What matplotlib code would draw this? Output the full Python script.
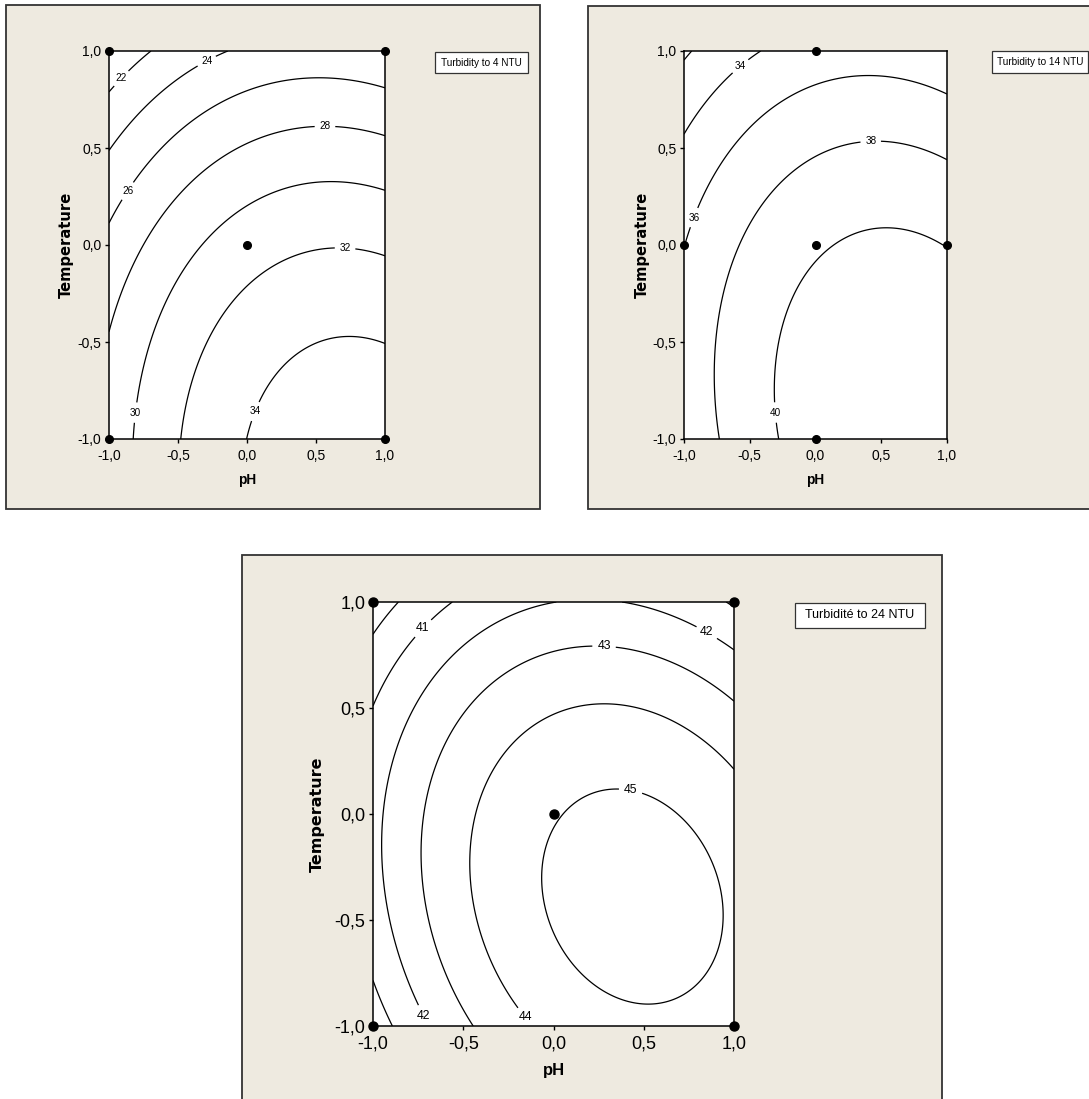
import numpy as np
import matplotlib.pyplot as plt
from matplotlib.patches import Rectangle

# fitted second-order models: b0, b_pH, b_T, b_pH2, b_T2, b_pH*T
coef_4 = [31.06, 2.60, -4.85, -1.96, -1.90, -0.646]
coef_14 = [39.759, 1.992, -2.994, -1.798, -1.881, -0.622]
coef_24 = [44.933, 1.365, -1.133, -1.844, -1.811, -0.635]

levels_4 = [22, 24, 26, 28, 30, 32, 34]
levels_14 = [32, 34, 36, 38, 40]
levels_24 = [40, 41, 42, 43, 44, 45]

# where the contour values are written
labels_4 = [(-0.913, 0.86), (-0.286, 0.94), (-0.858, 0.275), (0.565, 0.60),
            (-0.807, -0.864), (0.71, -0.026), (0.08, -0.864)]
labels_14 = [(-0.574, 0.924), (-0.922, 0.141), (0.42, 0.532), (-0.316, -0.864)]
labels_24 = [(-0.721, 0.874), (0.848, 0.854), (0.28, 0.788), (-0.148, -0.952),
             (-0.721, -0.952), (0.427, 0.109)]

# design points (pH, Temperature)
ph_4 = [-1, 1, 0, -1, 1]
temp_4 = [1, 1, 0, -1, -1]
ph_14 = [0, -1, 0, 1, 0]
temp_14 = [1, 0, 0, 0, -1]
ph_24 = [-1, 1, 0, -1, 1]
temp_24 = [1, 1, 0, -1, -1]

titles = ["Turbidity to 4 NTU", "Turbidity to 14 NTU", "Turbidité to 24 NTU"]
ticks = [-1, -0.5, 0, 0.5, 1]
tick_labels = ["-1,0", "-0,5", "0,0", "0,5", "1,0"]

BG = "#EEEAE0"
W, H = 1089, 1099
SANS = ["Liberation Sans", "DejaVu Sans"]

fig = plt.figure(figsize=(W / 100, H / 100), dpi=100)


def px_rect(x0, y0, x1, y1):
    return (x0 / W, 1 - y1 / H, (x1 - x0) / W, (y1 - y0) / H)


# beige panels
for r in [(6, 5, 540, 509), (588, 6, 1140, 509), (242, 555, 942, 1120)]:
    l, b, w, h = px_rect(*r)
    fig.add_artist(Rectangle((l, b), w, h, transform=fig.transFigure,
                             facecolor=BG, edgecolor="#333333", lw=1.3, zorder=-5))

gx, gy = np.meshgrid(np.linspace(-1, 1, 241), np.linspace(-1, 1, 241))

panels = [
    dict(rect=(109, 51, 385, 439), coef=coef_4, levels=levels_4, lab=labels_4,
         px=ph_4, py=temp_4, box=(435, 52, 528, 73), title=titles[0],
         tick=10, clab=7.2, axlab=10.6, ph=9.8, leg=7.2, ms=5.5, ylx=-0.156),
    dict(rect=(684, 51, 947, 439), coef=coef_14, levels=levels_14, lab=labels_14,
         px=ph_14, py=temp_14, box=(992, 51, 1088, 73), title=titles[1],
         tick=10, clab=7.2, axlab=10.6, ph=9.8, leg=7.2, ms=5.5, ylx=-0.16),
    dict(rect=(373, 602, 734, 1026), coef=coef_24, levels=levels_24, lab=labels_24,
         px=ph_24, py=temp_24, box=(795, 603, 925, 628), title=titles[2],
         tick=13, clab=8.8, axlab=11.5, ph=12, leg=9, ms=6.5, ylx=-0.155),
]

for p in panels:
    ax = fig.add_axes(px_rect(*p["rect"]))
    c = p["coef"]
    z = c[0] + c[1] * gx + c[2] * gy + c[3] * gx ** 2 + c[4] * gy ** 2 + c[5] * gx * gy
    cs = ax.contour(gx, gy, z, levels=p["levels"], colors="k", linewidths=0.9)
    txts = ax.clabel(cs, fmt="%d", manual=p["lab"], inline=True, inline_spacing=4,
                     fontsize=p["clab"])
    for t in txts:
        t.set_rotation(0)
        t.set_fontfamily(SANS)
    ax.plot(p["px"], p["py"], "o", color="k", ms=p["ms"], clip_on=False, zorder=5)

    ax.set_xlim(-1, 1)
    ax.set_ylim(-1, 1)
    ax.set_facecolor("white")
    for s in ax.spines.values():
        s.set_linewidth(1.1)
    ax.set_xticks(ticks)
    ax.set_xticklabels(tick_labels)
    ax.set_yticks(ticks)
    ax.set_yticklabels(tick_labels)
    ax.tick_params(direction="out", length=3, width=1, pad=2.5,
                   labelsize=p["tick"], labelfontfamily="Liberation Sans")
    ax.tick_params(axis="x", pad=4)

    ax.text(p["ylx"], 0.5, "Temperature", rotation=90, ha="center", va="center",
            transform=ax.transAxes, fontsize=p["axlab"], fontweight="bold",
            family="DejaVu Sans")
    ax.text(0.5, -0.106, "pH", ha="center", va="center", transform=ax.transAxes,
            fontsize=p["ph"], fontweight="bold", family=SANS)

    # response label box
    l, b, w, h = px_rect(*p["box"])
    fig.add_artist(Rectangle((l, b), w, h, transform=fig.transFigure,
                             facecolor="white", edgecolor="#333333", lw=0.9))
    fig.text(l + w / 2, b + h / 2, p["title"], ha="center", va="center",
             fontsize=p["leg"], family=SANS)

fig.savefig("out.png", facecolor="white")
